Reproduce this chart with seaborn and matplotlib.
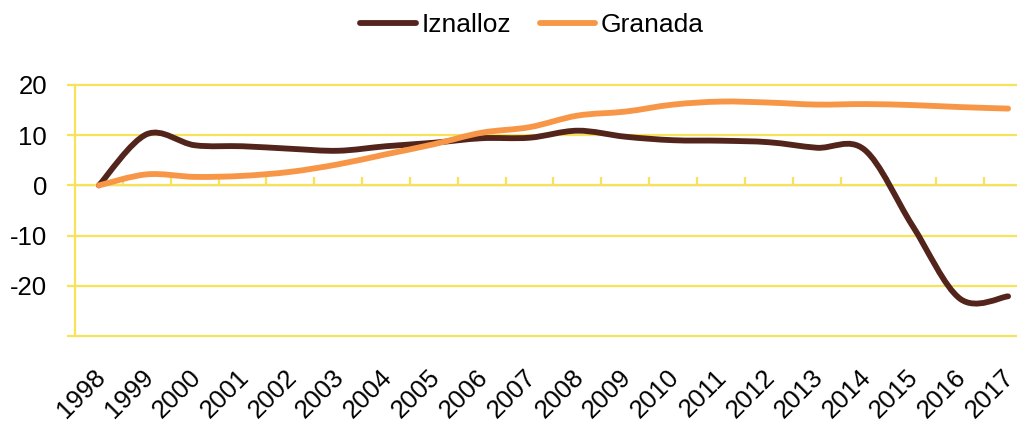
import numpy as np
import pandas as pd
import matplotlib
matplotlib.use("Agg")
import matplotlib.pyplot as plt
import matplotlib.transforms as mtransforms
from matplotlib.path import Path
from matplotlib.patches import PathPatch
import seaborn as sns

# --- datos ---
anios = ['1998', '1999', '2000', '2001', '2002', '2003', '2004', '2005', '2006', '2007',
         '2008', '2009', '2010', '2011', '2012', '2013', '2014', '2015', '2016', '2017']
iznalloz = [0, 10.2, 8.0, 7.8, 7.3, 6.9, 7.8, 8.5, 9.4, 9.5,
            10.9, 9.7, 9.0, 8.9, 8.6, 7.5, 7.1, -8.0, -22.6, -22.1]
granada = [0, 2.2, 1.7, 1.9, 2.7, 4.2, 6.2, 8.2, 10.5, 11.6,
           13.9, 14.7, 16.1, 16.7, 16.5, 16.1, 16.2, 16.0, 15.6, 15.3]

series = {'Iznalloz': iznalloz, 'Granada': granada}
colores = {'Iznalloz': '#52241b', 'Granada': '#f79646'}
amarillo = '#f6e35a'
grosor = 4.2


def curva_suave(x, y):
    # curva tipo Excel (Catmull-Rom -> Bezier cubica)
    n = len(x)
    verts = [(x[0], y[0])]
    codes = [Path.MOVETO]
    for i in range(n - 1):
        a = i - 1 if i > 0 else i
        d = i + 2 if i + 2 < n else i + 1
        c1 = (x[i] + (x[i + 1] - x[a]) / 6, y[i] + (y[i + 1] - y[a]) / 6)
        c2 = (x[i + 1] - (x[d] - x[i]) / 6, y[i + 1] - (y[d] - y[i]) / 6)
        verts += [c1, c2, (x[i + 1], y[i + 1])]
        codes += [Path.CURVE4] * 3
    return Path(verts, codes)


sns.set_style("white")
plt.rcParams['font.family'] = ['Liberation Sans', 'DejaVu Sans']
plt.rcParams['text.color'] = 'black'
plt.rcParams['xtick.color'] = 'black'
plt.rcParams['ytick.color'] = 'black'

fig = plt.figure(figsize=(10.17, 4.21), dpi=100)
ax = fig.add_axes([75 / 1017, 1 - 336 / 421, 957 / 1017, 251 / 421])

pos = np.arange(len(anios))
for nombre, valores in series.items():
    sns.lineplot(x=pos, y=valores, ax=ax, color=colores[nombre], lw=grosor,
                 label=nombre)

ax.set_xlim(-0.5, len(anios) - 0.5)
ax.set_ylim(-30, 20)
ax.set_yticks([-30, -20, -10, 0, 10, 20])
ax.set_yticklabels(['', '-20', '-10', '0', '10', '20'])

ax.grid(axis='y', color=amarillo, lw=1.6)
for g in ax.get_ygridlines():
    g.set_clip_on(False)
ax.set_axisbelow(True)
for lado in ['top', 'right', 'bottom']:
    ax.spines[lado].set_visible(False)
ax.spines['left'].set_color(amarillo)
ax.spines['left'].set_linewidth(1.6)

ax.tick_params(axis='y', length=6, width=1.6, color=amarillo, labelcolor='black',
               labelsize=18.5, pad=14, left=True)
ax.set_xticks(pos)
ax.set_xticklabels(anios, rotation=45, ha='right', rotation_mode='anchor')
ax.tick_params(axis='x', length=0, labelsize=18.5, pad=21, labelcolor='black')
desplaza = mtransforms.ScaledTranslation(-6 / 100, 0, fig.dpi_scale_trans)
for lbl in ax.get_xticklabels():
    lbl.set_transform(lbl.get_transform() + desplaza)

# eje horizontal en y = 0 con marcas entre categorias
eje0 = ax.secondary_xaxis(0.6)
eje0.set_xticks(pos[:-1] + 0.5)
eje0.set_xticklabels([])
eje0.tick_params(axis='x', length=6, width=1.6, color=amarillo, direction='out')
eje0.spines['bottom'].set_visible(False)

leg = ax.legend(loc='center', bbox_to_anchor=(532 / 1017, 1 - 25 / 421),
                bbox_transform=fig.transFigure, ncol=2, frameon=False, fontsize=19,
                handlelength=2.1, handletextpad=0.2, columnspacing=1.1)
for h in leg.get_lines():
    h.set_linewidth(grosor)
    h.set_solid_capstyle('round')

# sustituir las lineas rectas por curvas suavizadas
for linea in list(ax.lines):
    x = linea.get_xdata()
    y = linea.get_ydata()
    parche = PathPatch(curva_suave(np.asarray(x, float), np.asarray(y, float)),
                       fill=False, edgecolor=linea.get_color(), lw=grosor,
                       capstyle='round', joinstyle='round', zorder=3)
    ax.add_patch(parche)
    linea.set_visible(False)

ax.set_xlabel('')
ax.set_ylabel('')

fig.savefig('out.png', dpi=100)
